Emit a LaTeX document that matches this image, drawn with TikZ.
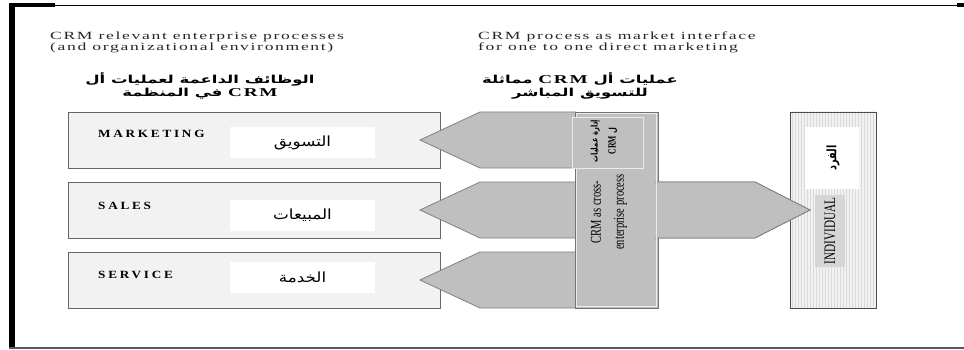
\documentclass[tikz,border=0pt]{standalone}
\usepackage{fontspec}
\setmainfont{Liberation Serif}
\newfontfamily\arabicfont[Script=Arabic,FakeStretch=1.2]{DejaVu Sans}
\newfontfamily\arabicwide[Script=Arabic,FakeStretch=1.5]{DejaVu Sans}
\newfontfamily\arabicnarrow[Script=Arabic,FakeStretch=0.75]{DejaVu Sans}
\newfontfamily\widefont[FakeStretch=1.6,LetterSpace=15]{Liberation Serif}
\newfontfamily\capsfont[FakeStretch=1.2,LetterSpace=25]{Liberation Serif}
\newfontfamily\narrowfont[FakeStretch=0.7]{Liberation Serif}
\newcommand\crmtag{{\widefont\bfseries\fontsize{12}{12}\selectfont CRM}}
\TeXXeTstate=1
\usetikzlibrary{patterns}

\begin{document}
\begin{tikzpicture}[
  x=1pt,
  y=-1pt,
  dept box/.style={
    draw=black!60,
    fill=black!5,
    line width=.8pt,
    minimum width=372pt,
    minimum height=56pt,
    inner sep=0pt
  },
  name box/.style={
    fill=white,
    minimum width=145pt,
    minimum height=31pt,
    inner sep=0pt,
    font=\arabicfont\fontsize{14}{16}\selectfont
  },
  dept label/.style={
    anchor=west,
    inner sep=0pt,
    font=\capsfont\bfseries\fontsize{11}{13}\selectfont
  },
  arrow shape/.style={
    draw=black!50,
    fill=black!25,
    line width=.8pt
  },
  cross box/.style={
    draw=black!55,
    fill=black!25,
    line width=.8pt,
    minimum width=83pt,
    minimum height=196pt,
    inner sep=0pt
  },
  indiv box/.style={
    draw=black!70,
    line width=.8pt,
    preaction={fill=black!5},
    pattern=vertical lines,
    pattern color=black!15,
    minimum width=86pt,
    minimum height=196pt,
    inner sep=0pt
  },
  title/.style={
    anchor=west,
    inner sep=0pt,
    align=left,
    text=black!85,
    font=\widefont\fontsize{11}{11}\selectfont
  },
  ar title/.style={
    inner sep=0pt,
    align=center,
    font=\arabicwide\bfseries\fontsize{11}{13}\selectfont
  },
]
\useasboundingbox (0,0) rectangle (964,350);

% frame
\fill (9,4) rectangle (14.5,349);
\fill (9,3.5) rectangle (55,7.5);
\fill (957,3.5) rectangle (964,7.5);
\draw[line width=1.4pt] (9,5.5) -- (964,5.5);
\draw[black!65, line width=1.4pt] (9,348) -- (964,348);

% headings
\node[title] (left title) at (50,42.5) {CRM relevant enterprise processes\\(and organizational environment)};
\node[title] (right title) at (478,42.5) {CRM process as market interface\\for one to one direct marketing};
\node[ar title] (left ar title) at (200,86)
  {\beginR الوظائف الداعمة لعمليات أل\endR\\\beginR\beginL\crmtag\endL{} في المنظمة\endR};
\node[ar title] (right ar title) at (580,86)
  {\beginR عمليات أل \beginL\crmtag\endL{} مماثلة\endR\\\beginR للتسويق المباشر\endR};

% departments
\node[dept box] (mkt) at (254,140) {};
\node[dept box] (sales) at (254,210) {};
\node[dept box] (service) at (254,280) {};
\node[name box] (mkt ar) at (302.5,142.5) {التسويق};
\node[name box] (sales ar) at (302.5,215) {المبيعات};
\node[name box] (service ar) at (302.5,277) {الخدمة};
\node[dept label] (mkt en) at (98,134) {MARKETING};
\node[dept label] (sales en) at (98,206) {SALES};
\node[dept label] (service en) at (98,275) {SERVICE};

% individual
\node[indiv box] (indiv) at (833,210) {};
\node[fill=white, minimum width=54pt, minimum height=62pt, inner sep=0pt] (indiv ar box) at (832,158) {};
\node[rotate=90, font=\arabicnarrow\bfseries\fontsize{13}{14}\selectfont] (indiv ar) at (833,158) {الفرد};
\node[rotate=90, fill=black!16, minimum width=72pt, minimum height=30pt, inner sep=0pt,
  font=\narrowfont\fontsize{16}{18}\selectfont] (indiv en) at (830,231) {INDIVIDUAL};

% arrows
\draw[arrow shape] (576,112) -- (480,112) -- (420,140) -- (480,168) -- (576,168);
\draw[arrow shape] (576,252) -- (480,252) -- (420,280) -- (480,308) -- (576,308);
\draw[arrow shape] (420,210) -- (480,182) -- (755,182) -- (810,210) -- (755,238) -- (480,238) -- cycle;

% cross-enterprise process
\node[cross box] (cross) at (616.5,210) {};
\draw[arrow shape] (655,182) -- (755,182) -- (810,210) -- (755,238) -- (655,238);
\draw[black!8, line width=.6pt] ([shift={(1.8,1.8)}]cross.north west) rectangle ([shift={(-1.8,-1.8)}]cross.south east);
\node[draw=black!8, fill=black!25, line width=.8pt, minimum width=71pt, minimum height=51pt, inner sep=0pt] (crm box) at (607.5,142.5) {};
\node[rotate=90, align=center, font=\arabicnarrow\bfseries\fontsize{9}{18}\selectfont] (crm ar) at (604,141)
  {\beginR إدارة عمليات\endR\\\beginR ل \beginL{\narrowfont\fontsize{11}{18}\selectfont CRM}\endL\endR};
\node[rotate=90, align=center, font=\narrowfont\fontsize{15}{23}\selectfont] (cross text) at (609,212)
  {CRM as cross-\\enterprise process};
\end{tikzpicture}
\end{document}
